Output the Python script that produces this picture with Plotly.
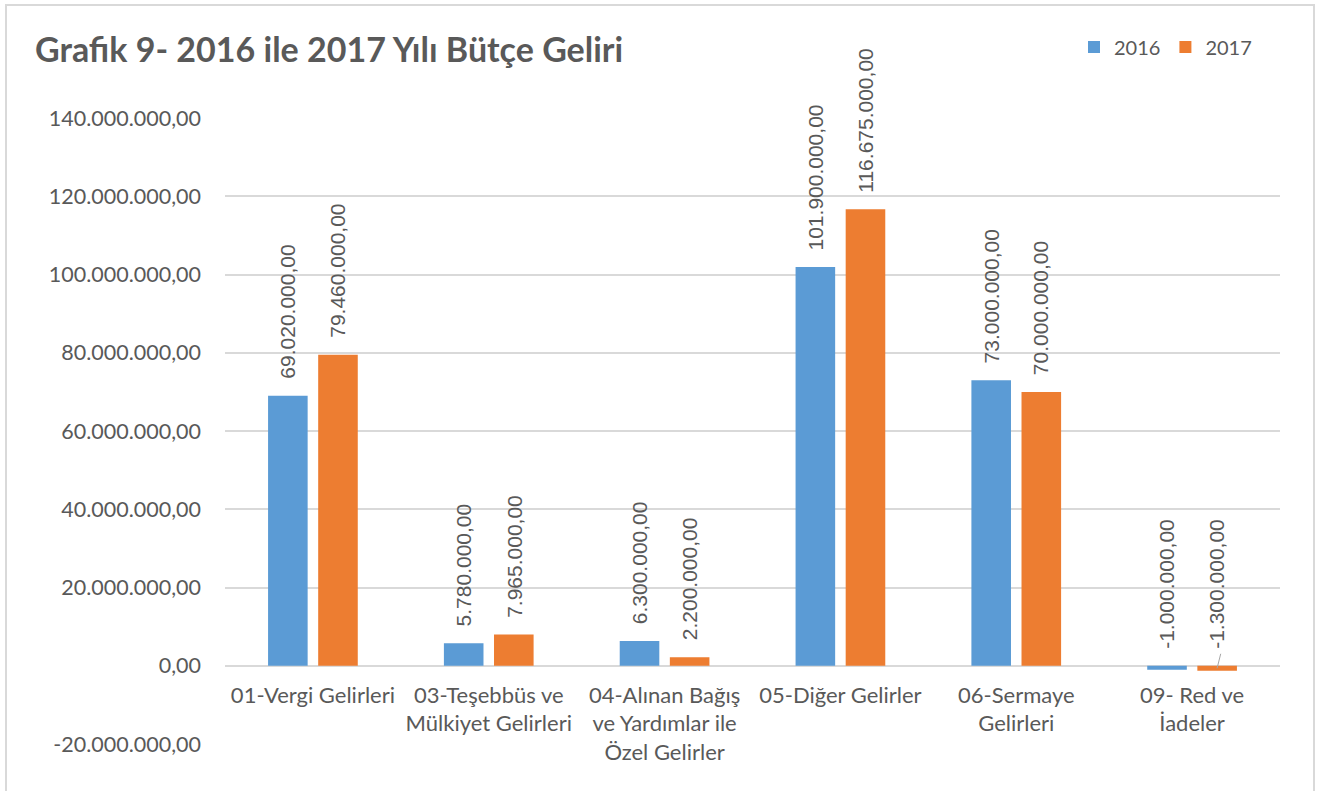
import plotly.graph_objects as go

categories = [
    "01-Vergi Gelirleri",
    "03-Teşebbüs ve<br>Mülkiyet Gelirleri",
    "04-Alınan Bağış<br>ve Yardımlar ile<br>Özel Gelirler",
    "05-Diğer Gelirler",
    "06-Sermaye<br>Gelirleri",
    "09- Red ve<br>İadeler",
]
values_2016 = [69020000, 5780000, 6300000, 101900000, 73000000, -1000000]
values_2017 = [79460000, 7965000, 2200000, 116675000, 70000000, -1300000]
series_names = ["2016", "2017"]
tick_values = [-20000000, 0, 20000000, 40000000, 60000000, 80000000, 100000000, 120000000, 140000000]

TEXT = "#595959"
GRID = "#D9D9D9"
FONT = "Lato"

W, H = 1320, 791
L, R, T, B = 225, 40, 118, 47
PW, PH = W - L - R, H - T - B


def fmt(v):
    s = f"{abs(v):,.2f}".replace(",", "X").replace(".", ",").replace("X", ".")
    return ("-" if v < 0 else "") + s


fig = go.Figure()
colors = ["#5B9BD5", "#ED7D31"]
for name, vals, col in zip(series_names, [values_2016, values_2017], colors):
    fig.add_trace(go.Bar(x=categories, y=vals, name=name, marker=dict(color=col, line=dict(width=0))))

annotations = []
for k, vals in enumerate([values_2016, values_2017]):
    shift = -25 if k == 0 else 25
    for c, v in zip(categories, vals):
        annotations.append(dict(
            x=c, y=max(v, 0), xref="x", yref="y", text=fmt(v), textangle=-90,
            showarrow=False, xanchor="center", yanchor="bottom", xshift=shift, yshift=15,
            font=dict(family="Liberation Sans", size=21, color=TEXT),
        ))

# leader line for the last 2017 label
annotations.append(dict(
    x=categories[-1], y=values_2017[-1] / 2, xref="x", yref="y", text="", showarrow=True,
    arrowhead=0, arrowwidth=1, arrowcolor="#A6A6A6", ax=4, ay=-16, xshift=25,
))

fig.update_layout(
    width=W, height=H,
    margin=dict(l=L, r=R, t=T, b=B),
    paper_bgcolor="white", plot_bgcolor="white",
    separators=",.",
    barmode="group", bargap=0.43, bargroupgap=0.21,
    title=dict(
        text="Grafik 9- 2016 ile 2017 Yılı Bütçe Geliri",
        x=35 / W, xref="container", xanchor="left",
        y=1 - 50 / H, yref="container", yanchor="middle",
        font=dict(family=FONT, size=34, color=TEXT, weight="bold"),
    ),
    legend=dict(
        orientation="h", x=(1257 - L) / PW, xanchor="right", y=1 + (T - 47) / PH, yanchor="middle",
        font=dict(family=FONT, size=20, color=TEXT), traceorder="normal",
        itemwidth=30,
    ),
    xaxis=dict(
        anchor="free", position=20 / 160, showgrid=False, showline=False, zeroline=False,
        ticks="", ticklabelstandoff=14,
        tickfont=dict(family=FONT, size=22, color=TEXT),
    ),
    yaxis=dict(
        range=[-20000000, 140000000], tickvals=tick_values, ticktext=[fmt(v) for v in tick_values],
        showgrid=True, gridcolor=GRID, gridwidth=1.5, zeroline=True, zerolinecolor=GRID, zerolinewidth=1.5,
        showline=False, ticks="", ticklabelstandoff=23,
        tickfont=dict(family=FONT, size=21.5, color=TEXT),
    ),
    annotations=annotations,
    shapes=[dict(
        type="rect", xref="paper", yref="paper",
        x0=(6 - L) / PW, x1=(1314 - L) / PW,
        y0=-(B + 20) / PH, y1=1 + (T - 5) / PH,
        line=dict(color=GRID, width=2), fillcolor="rgba(0,0,0,0)", layer="below",
    )],
)

fig.write_html("out.html", config={"displayModeBar": False},
               post_script="document.body.style.margin='0';")
